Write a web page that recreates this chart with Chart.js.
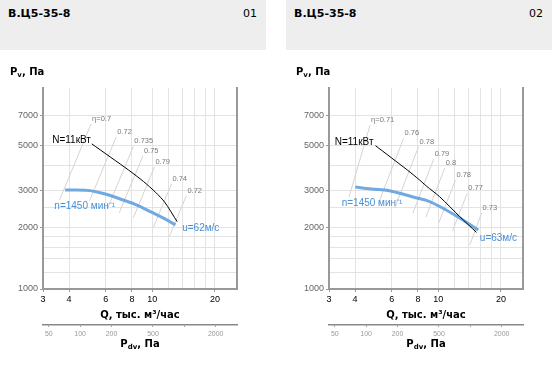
<!DOCTYPE html>
<html><head><meta charset="utf-8">
<script src="https://cdn.jsdelivr.net/npm/chart.js@4.4.1/dist/chart.umd.min.js"></script>
<style>
html,body{margin:0;padding:0;background:#fff}
body{width:552px;height:374px;overflow:hidden;position:relative;font-family:"DejaVu Sans",sans-serif}
.panel{position:absolute;top:0;width:266px;height:374px}
.head{position:absolute;left:0;top:0;width:266px;height:50px;background:#eeeeee}
.title{position:absolute;left:8px;top:7px;line-height:13px;font:bold 11px "DejaVu Sans";color:#000}
.num{position:absolute;right:9px;top:7px;line-height:13px;font:11px "DejaVu Sans";color:#000}
canvas{position:absolute;left:0;top:0}
.lab{position:absolute;font:bold 10px "DejaVu Sans";line-height:12px;white-space:nowrap;color:#000}
.lab sub{font-size:7px;vertical-align:-2px}
.ctr{left:43px;width:194px;text-align:center}
</style>
</head><body>

<script>
// ---------- axis ticks ----------
const qTicks = [3, 4, 6, 8, 10, 12, 14, 16, 18, 20];
const qTickLabels = [3, 4, 6, 8, 10, 20];
const pTicks = [1000, 1200, 1400, 1600, 1800, 2000, 2500, 3000, 4000, 5000, 7000];
const pTickLabels = [1000, 2000, 3000, 5000, 7000];
const pdvTicks = [50, 100, 200, 500, 1000, 2000];
const pdvTickLabels = [50, 100, 200, 500, 2000];

// ---------- panel 01 ----------
const title1 = "В.Ц5-35-8", num1 = "01";
const fan1Q = [3.83, 4.37, 5.05, 5.64, 6.3, 7.27, 8.0, 8.78, 9.81, 11.33, 12.93];
const fan1P = [3030, 3030, 3010, 2940, 2850, 2710, 2620, 2515, 2378, 2210, 2050];
const power1Q = [5.14, 7.71, 9.10, 10.4, 11.5, 13.18];
const power1P = [5080, 3790, 3330, 2950, 2640, 2125];
const eta1Labels = ["η=0.7", "0.72", "0.735", "0.75", "0.79", "0.74", "0.72"];
const eta1TopQ = [5.10, 6.73, 8.13, 9.03, 10.25, 12.37, 14.6];
const eta1TopP = [6350, 5490, 4940, 4440, 3920, 3240, 2850];
const eta1BotQ = [3.60, 5.01, 6.11, 6.96, 8.13, 10.11, 12.1];
const eta1BotP = [2710, 2680, 2465, 2350, 2220, 1985, 1800];
const text1 = {N: "N=11кВт", n: "n=1450 мин⁻¹", u: "u=62м/с"};
const at1N = [5.09, 5310], at1n = [3.40, 2515], at1u = [13.93, 1974];

// ---------- panel 02 ----------
const title2 = "В.Ц5-35-8", num2 = "02";
const fan2Q = [4.01, 4.78, 5.83, 7.03, 8.01, 8.78, 10.17, 12.69, 15.56];
const fan2P = [3135, 3066, 3008, 2867, 2763, 2697, 2520, 2216, 1937];
const power2Q = [5.01, 7.11, 8.15, 8.78, 10.17, 12.69, 15.27];
const power2P = [4980, 3795, 3390, 3170, 2810, 2250, 1884];
const eta2Labels = ["η=0.71", "0.76", "0.78", "0.79", "0.8", "0.78", "0.77", "0.73"];
const eta2TopQ = [4.72, 6.83, 8.06, 9.52, 10.75, 12.1, 13.78, 16.14];
const eta2TopP = [6280, 5410, 4930, 4280, 3870, 3390, 2920, 2340];
const eta2BotQ = [3.74, 5.16, 6.20, 7.57, 8.74, 10.07, 11.71, 14.18];
const eta2BotP = [2800, 2590, 2480, 2340, 2240, 2095, 1915, 1637];
const text2 = {N: "N=11кВт", n: "n=1450 мин⁻¹", u: "u=63м/с"};
const at2N = [4.90, 5150], at2n = [3.45, 2610], at2u = [15.84, 1765];

const BLUE = "rgba(98,160,222,0.9)", BLUE_TXT = "#4a8fd6";

const annotPlugin = {
  id: "annot",
  afterDatasetsDraw(chart, args, o) {
    const ctx = chart.ctx, x = chart.scales.x, y = chart.scales.y;
    const px = q => x.getPixelForValue(q), py = p => y.getPixelForValue(p);
    ctx.save();
    ctx.textBaseline = "middle";
    ctx.font = '7.5px "Liberation Sans"';
    ctx.fillStyle = "#7a7a7a";
    ctx.textAlign = "left";
    o.etaLabels.forEach((t, i) => ctx.fillText(t, px(o.etaTopQ[i]) + 1, py(o.etaTopP[i]) - 5));
    ctx.font = '10px "Liberation Sans"';
    ctx.fillStyle = "#000";
    ctx.textAlign = "right";
    ctx.fillText(o.text.N, px(o.atN[0]), py(o.atN[1]));
    ctx.fillStyle = BLUE_TXT;
    ctx.textAlign = "left";
    ctx.fillText(o.text.n, px(o.atn[0]), py(o.atn[1]));
    ctx.fillText(o.text.u, px(o.atu[0]), py(o.atu[1]));
    ctx.restore();
  }
};

function pts(qs, ps) { return qs.map((q, i) => ({x: q, y: ps[i]})); }

function makePanel(left, title, num, fanQ, fanP, powQ, powP, etaLabels, etaTopQ, etaTopP, etaBotQ, etaBotP, text, atN, atn, atu) {
  const panel = document.createElement("div");
  panel.className = "panel";
  panel.style.left = left + "px";
  panel.innerHTML =
    '<canvas width="266" height="374"></canvas>' +
    '<div class="head"><span class="title"></span><span class="num"></span></div>' +
    '<div class="lab" style="left:10px;top:66px">P<sub>v</sub>, Па</div>' +
    '<div class="lab ctr" style="top:309px">Q, тыс. м³/час</div>' +
    '<div class="lab ctr" style="top:338px">P<sub>dv</sub>, Па</div>';
  panel.querySelector(".title").textContent = title;
  panel.querySelector(".num").textContent = num;
  document.body.appendChild(panel);
  const canvas = panel.querySelector("canvas");

  const datasets = [
    {data: pts(powQ, powP), borderColor: "#000", borderWidth: 1, showLine: true, pointRadius: 0, tension: 0.25},
    {data: pts(fanQ, fanP), borderColor: BLUE, borderWidth: 3, showLine: true, pointRadius: 0, tension: 0.4, cubicInterpolationMode: "monotone"}
  ];
  etaLabels.forEach((_, i) => datasets.push({
    data: [{x: etaBotQ[i], y: etaBotP[i]}, {x: etaTopQ[i], y: etaTopP[i]}],
    borderColor: "#d4d4d4", borderWidth: 1, showLine: true, pointRadius: 0
  }));

  const tickCol = labels => c => (c.tick && labels.includes(c.tick.value)) ? "#999" : "rgba(0,0,0,0)";

  new Chart(canvas, {
    type: "scatter",
    data: {datasets},
    plugins: [annotPlugin],
    options: {
      responsive: false, animation: false, devicePixelRatio: 1,
      layout: {padding: {top: 88, left: 0, right: 29, bottom: 20}},
      plugins: {legend: {display: false}, tooltip: {enabled: false},
        annot: {etaLabels, etaTopQ, etaTopP, text, atN, atn, atu}},
      scales: {
        x: {
          type: "logarithmic", position: "bottom", min: 3, max: 25.5, weight: 0,
          afterBuildTicks: s => { s.ticks = qTicks.map(v => ({value: v})); },
          afterFit: s => { s.height = 36; },
          ticks: {autoSkip: false, maxRotation: 0, padding: 2, color: "#000",
            font: {family: "Liberation Sans", size: 9},
            callback: v => qTickLabels.includes(v) ? String(v) : ""},
          grid: {color: "#e3e3e3", lineWidth: 1, tickLength: 3, tickColor: tickCol(qTickLabels)},
          border: {color: "#999", width: 2}
        },
        x2: {
          type: "logarithmic", position: "bottom", min: 44, max: 3200, weight: 1,
          afterBuildTicks: s => { s.ticks = pdvTicks.map(v => ({value: v})); },
          afterFit: s => { s.height = 29; },
          ticks: {autoSkip: false, maxRotation: 0, padding: 3, color: "#999",
            font: {family: "Liberation Sans", size: 7},
            callback: v => pdvTickLabels.includes(v) ? String(v) : ""},
          grid: {drawOnChartArea: false, tickLength: 2, tickColor: "#999"},
          border: {color: "#888", width: 1.5}
        },
        y: {
          type: "logarithmic", position: "left", min: 1000, max: 9500,
          afterBuildTicks: s => { s.ticks = pTicks.map(v => ({value: v})); },
          afterFit: s => { s.width = 43; },
          ticks: {autoSkip: false, padding: 2, color: "#666",
            font: {family: "Liberation Sans", size: 9},
            callback: v => pTickLabels.includes(v) ? String(v) : ""},
          grid: {color: "#e3e3e3", lineWidth: 1, tickLength: 3, tickColor: tickCol(pTickLabels)},
          border: {color: "#999", width: 2}
        },
        y2: {
          type: "linear", position: "right", display: true,
          afterFit: s => { s.width = 0; },
          ticks: {display: false},
          grid: {drawOnChartArea: false, drawTicks: false},
          border: {color: "#999", width: 2}
        }
      }
    }
  });
}

makePanel(0, title1, num1, fan1Q, fan1P, power1Q, power1P, eta1Labels, eta1TopQ, eta1TopP, eta1BotQ, eta1BotP, text1, at1N, at1n, at1u);
makePanel(286, title2, num2, fan2Q, fan2P, power2Q, power2P, eta2Labels, eta2TopQ, eta2TopP, eta2BotQ, eta2BotP, text2, at2N, at2n, at2u);
</script>
</body></html>
